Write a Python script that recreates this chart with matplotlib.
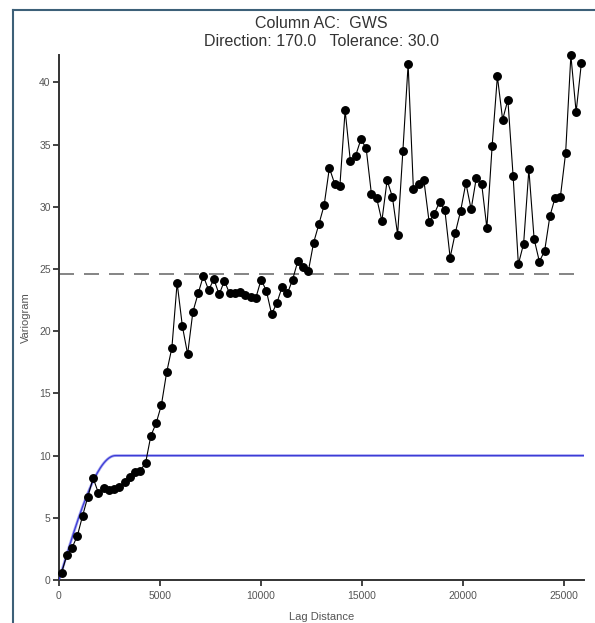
import numpy as np
import matplotlib
matplotlib.use('Agg')
import matplotlib.pyplot as plt
from matplotlib.lines import Line2D

plt.rcParams['font.family'] = ['Liberation Sans', 'DejaVu Sans']

# experimental variogram, lag centres and values
lag = [130, 390, 650, 910, 1170, 1430, 1690, 1950, 2210, 2470,
       2730, 2990, 3250, 3510, 3770, 4030, 4290, 4550, 4810, 5070,
       5330, 5590, 5850, 6110, 6370, 6630, 6890, 7150, 7410, 7670,
       7930, 8190, 8450, 8710, 8970, 9230, 9490, 9750, 10010, 10270,
       10530, 10790, 11050, 11310, 11570, 11830, 12090, 12350, 12610, 12870,
       13130, 13390, 13650, 13910, 14170, 14430, 14690, 14950, 15210, 15470,
       15730, 15990, 16250, 16510, 16770, 17030, 17290, 17550, 17810, 18070,
       18330, 18590, 18850, 19110, 19370, 19630, 19890, 20150, 20410, 20670,
       20930, 21190, 21450, 21710, 21970, 22230, 22490, 22750, 23010, 23270,
       23530, 23790, 24050, 24310, 24570, 24830, 25090, 25350, 25610, 25870]
gamma = [0.59, 2.0, 2.6, 3.56, 5.17, 6.7, 8.2, 7.0, 7.4, 7.2,
         7.35, 7.45, 7.9, 8.3, 8.65, 8.8, 9.43, 11.6, 12.6, 14.06,
         16.68, 18.66, 23.88, 20.4, 18.15, 21.55, 23.03, 24.44, 23.3, 24.18,
         22.95, 24.04, 23.03, 23.05, 23.16, 22.9, 22.76, 22.68, 24.15, 23.24,
         21.37, 22.27, 23.56, 23.03, 24.15, 25.65, 25.17, 24.84, 27.12, 28.6,
         30.12, 33.12, 31.86, 31.67, 37.75, 33.65, 34.1, 35.42, 34.72, 31.06,
         30.7, 28.86, 32.13, 30.79, 27.77, 34.48, 41.45, 31.46, 31.86, 32.13,
         28.78, 29.45, 30.39, 29.72, 25.92, 27.93, 29.67, 31.91, 29.8, 32.35,
         31.86, 28.3, 34.88, 40.48, 37.0, 38.6, 32.45, 25.38, 27.04, 33.0,
         27.4, 25.6, 26.45, 29.24, 30.74, 30.79, 34.32, 42.17, 37.62, 41.55]

sample_variance = 24.6

# spherical model
model_nugget = 0.0
model_sill = 10.0
model_range = 2800.0

x_max = 26000
y_max = 42.2

fig = plt.figure(figsize=(5.95, 6.23), dpi=100)
ax = fig.add_axes([59 / 595, 43 / 623, 525 / 595, 525 / 623])

h = np.linspace(0, x_max, 600)
r = np.clip(h / model_range, 0, 1)
model = model_nugget + (model_sill - model_nugget) * (1.5 * r - 0.5 * r ** 3)

ax.axhline(sample_variance, color='#707070', lw=1.2, dashes=(9, 6), zorder=1)
ax.plot(h, model, color='#a8a8f0', lw=2.0, zorder=2)
ax.plot(h, model, color='#3c3cd6', lw=0.9, zorder=3)
ax.plot(lag, gamma, color='black', lw=0.8, marker='o', markersize=5.4,
        zorder=4, clip_on=False)

ax.set_xlim(0, x_max)
ax.set_ylim(0, y_max)
ax.set_xticks([0, 5000, 10000, 15000, 20000, 25000])
ax.set_yticks([0, 5, 10, 15, 20, 25, 30, 35, 40])

for side in ['top', 'right']:
    ax.spines[side].set_visible(False)
for side in ['left', 'bottom']:
    ax.spines[side].set_color('#333333')
    ax.spines[side].set_linewidth(1.4)
ax.tick_params(direction='out', length=4, width=1.2, color='#222222',
               labelsize=7.5, labelcolor='#555555')
ax.tick_params(axis='x', pad=4)
ax.tick_params(axis='y', pad=2)

ax.set_xlabel('Lag Distance', fontsize=8, color='#555555', labelpad=8)
ax.set_ylabel('Variogram', fontsize=8, color='#555555', labelpad=6)

fig.text(321 / 595, 1 - 24 / 623, 'Column AC:  GWS', ha='center', va='center',
         fontsize=11.5, color='#333333')
fig.text(321 / 595, 1 - 42 / 623, 'Direction: 170.0   Tolerance: 30.0',
         ha='center', va='center', fontsize=11.5, color='#333333')

# frame of the panel (top and left edges)
edge = '#3d6078'
fig.add_artist(Line2D([13 / 595, 13 / 595], [0, 1 - 9.5 / 623],
                      transform=fig.transFigure, color=edge, lw=1.5))
fig.add_artist(Line2D([13 / 595, 1], [1 - 9.5 / 623, 1 - 9.5 / 623],
                      transform=fig.transFigure, color=edge, lw=1.5))

fig.savefig('out.png', dpi=100, facecolor='white')
